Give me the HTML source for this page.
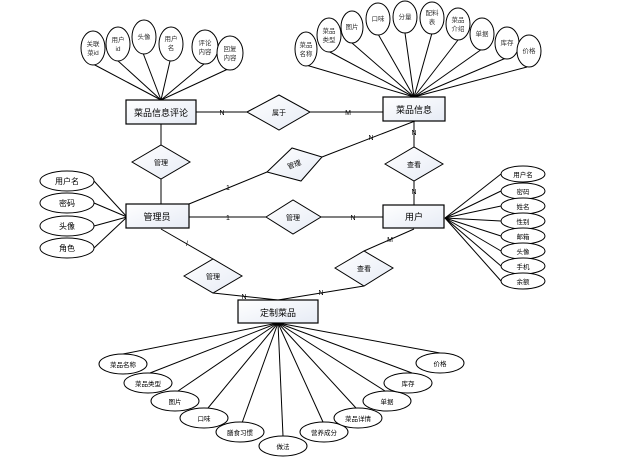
<!DOCTYPE html>
<html><head><meta charset="utf-8"><style>
html,body{margin:0;padding:0;background:#fff;}
svg{display:block;}
text{font-family:"Liberation Sans","Noto Sans CJK SC",sans-serif;}
</style></head><body>
<svg width="643" height="463" viewBox="0 0 643 463" xmlns="http://www.w3.org/2000/svg">
<defs>
<linearGradient id="g" x1="0" y1="0" x2="1" y2="1"><stop offset="0" stop-color="#ffffff"/><stop offset="1" stop-color="#e6ebf5"/></linearGradient>
</defs>
<g stroke="#000" stroke-width="1" fill="none">
<!-- comment attrs -->
<line x1="93" y1="64" x2="161" y2="100"/><line x1="117" y1="60" x2="161" y2="100"/><line x1="143" y1="53" x2="161" y2="100"/><line x1="170" y1="61" x2="161" y2="100"/><line x1="204" y1="64" x2="161" y2="100"/><line x1="228" y1="69" x2="161" y2="100"/>
<!-- dish attrs -->
<line x1="306" y1="65" x2="414" y2="97"/><line x1="328" y1="51" x2="414" y2="97"/><line x1="352" y1="43" x2="414" y2="97"/><line x1="378" y1="34" x2="414" y2="97"/><line x1="405" y1="33" x2="414" y2="97"/><line x1="432" y1="33" x2="414" y2="97"/><line x1="458" y1="40" x2="414" y2="97"/><line x1="482" y1="49" x2="414" y2="97"/><line x1="506" y1="58" x2="414" y2="97"/><line x1="527" y1="67" x2="414" y2="97"/>
<!-- relations -->
<line x1="196" y1="112" x2="247" y2="112"/><line x1="310" y1="112" x2="383" y2="112"/>
<line x1="161" y1="124" x2="161" y2="145"/><line x1="161" y1="179" x2="161" y2="204"/>
<line x1="189" y1="204" x2="267" y2="172"/><line x1="322" y1="157" x2="415" y2="121"/>
<line x1="414" y1="121" x2="414" y2="147"/><line x1="414" y1="181" x2="414" y2="205"/>
<line x1="189" y1="217" x2="266" y2="217"/><line x1="321" y1="217" x2="383" y2="217"/>
<line x1="161" y1="229" x2="213" y2="259"/><line x1="213" y1="293" x2="278" y2="300"/>
<line x1="414" y1="229" x2="364" y2="251"/><line x1="364" y1="286" x2="278" y2="300"/>
<!-- admin attrs -->
<line x1="94" y1="181" x2="127" y2="217"/><line x1="94" y1="203" x2="127" y2="217"/><line x1="94" y1="226" x2="127" y2="217"/><line x1="94" y1="248" x2="127" y2="217"/>
<!-- user attrs -->
<line x1="501" y1="174" x2="445" y2="218"/><line x1="501" y1="191" x2="445" y2="218"/><line x1="501" y1="206" x2="445" y2="218"/><line x1="501" y1="221" x2="445" y2="218"/><line x1="501" y1="236" x2="445" y2="218"/><line x1="501" y1="251" x2="445" y2="218"/><line x1="501" y1="266" x2="445" y2="218"/><line x1="501" y1="281" x2="445" y2="218"/>
<!-- bottom attrs -->
<line x1="123" y1="354" x2="278" y2="323"/><line x1="150" y1="373" x2="278" y2="323"/><line x1="178" y1="391" x2="278" y2="323"/><line x1="208" y1="408" x2="278" y2="323"/><line x1="242" y1="423" x2="278" y2="323"/><line x1="283" y1="436" x2="278" y2="323"/><line x1="323" y1="422" x2="278" y2="323"/><line x1="356" y1="408" x2="278" y2="323"/><line x1="385" y1="391" x2="278" y2="323"/><line x1="412" y1="373" x2="278" y2="323"/><line x1="440" y1="353" x2="278" y2="323"/>
</g>
<!-- boxes -->
<g stroke="#000" stroke-width="1.2" fill="url(#g)">
<rect x="126" y="100" width="70" height="24"/>
<rect x="383" y="97" width="62" height="24"/>
<rect x="126" y="204" width="63" height="24"/>
<rect x="383" y="205" width="61" height="23"/>
<rect x="238" y="300" width="80" height="23"/>
</g>
<g stroke="#000" stroke-width="1" fill="url(#g)">
<polygon points="247,112 279,95 310,112 279,130"/>
<polygon points="132,162 161,145 190,162 161,179"/>
<polygon points="267,172 292,148 322,157 301,181"/>
<polygon points="385,164 414,147 443,164 414,181"/>
<polygon points="266,217 293,200 321,217 293,234"/>
<polygon points="184,276 213,259 242,276 213,293"/>
<polygon points="335,268 364,251 393,268 364,286"/>
</g>
<g stroke="#000" stroke-width="1" fill="#fff">
<ellipse cx="93" cy="48" rx="12" ry="17"/><ellipse cx="118" cy="44" rx="12" ry="17"/><ellipse cx="144" cy="37" rx="12" ry="17"/><ellipse cx="171" cy="44" rx="12" ry="17"/><ellipse cx="205" cy="47" rx="13" ry="17"/><ellipse cx="230" cy="53" rx="13" ry="17"/>
<ellipse cx="306" cy="49" rx="11" ry="17"/><ellipse cx="329" cy="35" rx="12" ry="17"/><ellipse cx="352" cy="27" rx="11" ry="16"/><ellipse cx="378" cy="19" rx="12" ry="16"/><ellipse cx="405" cy="17" rx="12" ry="16"/><ellipse cx="432" cy="18" rx="12" ry="16"/><ellipse cx="458" cy="24" rx="12" ry="16"/><ellipse cx="482" cy="34" rx="12" ry="16"/><ellipse cx="507" cy="43" rx="12" ry="16"/><ellipse cx="529" cy="51" rx="12" ry="16"/>
<ellipse cx="67" cy="181" rx="27" ry="10"/><ellipse cx="67" cy="203" rx="27" ry="10"/><ellipse cx="67" cy="226" rx="27" ry="10"/><ellipse cx="67" cy="248" rx="27" ry="10"/>
<ellipse cx="523" cy="174" rx="22" ry="8"/><ellipse cx="523" cy="191" rx="22" ry="8"/><ellipse cx="523" cy="206" rx="22" ry="8"/><ellipse cx="523" cy="221" rx="22" ry="8"/><ellipse cx="523" cy="236" rx="22" ry="8"/><ellipse cx="523" cy="251" rx="22" ry="8"/><ellipse cx="523" cy="266" rx="22" ry="8"/><ellipse cx="523" cy="281" rx="22" ry="8"/>
<ellipse cx="123" cy="364" rx="24" ry="10"/><ellipse cx="148" cy="383" rx="24" ry="10"/><ellipse cx="175" cy="401" rx="24" ry="10"/><ellipse cx="204" cy="418" rx="24" ry="10"/><ellipse cx="240" cy="432" rx="24" ry="10"/><ellipse cx="283" cy="446" rx="24" ry="10"/><ellipse cx="324" cy="432" rx="24" ry="10"/><ellipse cx="358" cy="418" rx="24" ry="10"/><ellipse cx="387" cy="401" rx="24" ry="10"/><ellipse cx="408" cy="383" rx="24" ry="10"/><ellipse cx="440" cy="363" rx="24" ry="10"/>
</g>
<g font-size="9" text-anchor="middle" fill="#000">
<text x="161" y="116">菜品信息评论</text>
<text x="414" y="113">菜品信息</text>
<text x="157" y="220">管理员</text>
<text x="414" y="220">用户</text>
<text x="278" y="316">定制菜品</text>
</g>
<g font-size="7" text-anchor="middle" fill="#000">
<text x="279" y="115">属于</text>
<text x="161" y="165">管理</text>
<text x="294" y="167" transform="rotate(-20 294 164)">管理</text>
<text x="414" y="167">查看</text>
<text x="293" y="220">管理</text>
<text x="213" y="279">管理</text>
<text x="364" y="271">查看</text>
<text x="222" y="115">N</text><text x="348" y="115">M</text>
<text x="228" y="190">1</text><text x="371" y="140">N</text>
<text x="228" y="220">1</text><text x="353" y="220">N</text>
<text x="187" y="246">/</text><text x="244" y="299">N</text>
<text x="390" y="242">M</text><text x="321" y="295">N</text>
<text x="414" y="135">N</text><text x="414" y="194">N</text>
</g>
<g font-size="6.5" text-anchor="middle" fill="#333" font-family="Liberation Serif,'Noto Serif CJK SC',serif">
<text x="93" y="46">关联</text><text x="93" y="55">菜id</text>
<text x="118" y="42">用户</text><text x="118" y="51">id</text>
<text x="144" y="39">头像</text>
<text x="171" y="41">用户</text><text x="171" y="50">名</text>
<text x="205" y="45">评论</text><text x="205" y="54">内容</text>
<text x="230" y="51">回复</text><text x="230" y="60">内容</text>
<text x="306" y="47">菜品</text><text x="306" y="56">名称</text>
<text x="329" y="33">菜品</text><text x="329" y="42">类型</text>
<text x="352" y="29">图片</text><text x="378" y="21">口味</text><text x="405" y="19">分量</text>
<text x="432" y="15">配料</text><text x="432" y="24">表</text>
<text x="458" y="22">菜品</text><text x="458" y="31">介绍</text>
<text x="482" y="36">单据</text><text x="507" y="45">库存</text><text x="529" y="53">价格</text>
</g>
<g font-size="8" text-anchor="middle" fill="#000">
<text x="67" y="184">用户名</text><text x="67" y="206">密码</text><text x="67" y="229">头像</text><text x="67" y="251">角色</text>
</g>
<g font-size="6.5" text-anchor="middle" fill="#000">
<text x="523" y="177">用户名</text><text x="523" y="194">密码</text><text x="523" y="209">姓名</text><text x="523" y="224">性别</text><text x="523" y="239">邮箱</text><text x="523" y="254">头像</text><text x="523" y="269">手机</text><text x="523" y="284">余额</text>
<text x="123" y="367">菜品名称</text><text x="148" y="386">菜品类型</text><text x="175" y="404">图片</text><text x="204" y="421">口味</text><text x="240" y="435">膳食习惯</text><text x="283" y="449">做法</text><text x="324" y="435">营养成分</text><text x="358" y="421">菜品详情</text><text x="387" y="404">单据</text><text x="408" y="386">库存</text><text x="440" y="366">价格</text>
</g>
</svg>
</body></html>
